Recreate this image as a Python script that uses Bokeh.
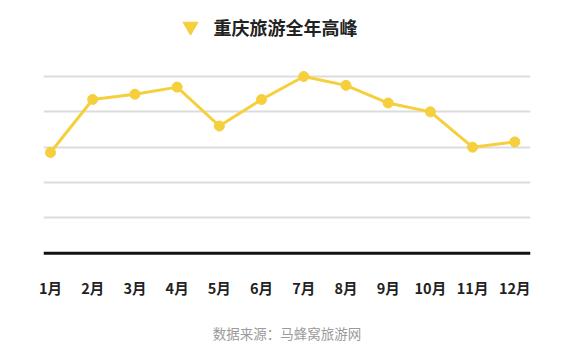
from bokeh.plotting import figure
from bokeh.models import Range1d, FixedTicker, Span, Label
from bokeh.embed import file_html
from bokeh.resources import INLINE

months = list(range(1, 13))
month_labels = ["1月", "2月", "3月", "4月", "5月", "6月", "7月", "8月", "9月", "10月", "11月", "12月"]
values = [57, 87, 90, 94, 72, 87, 100, 95, 85, 80, 60, 63]
grid_ticks = [20, 40, 60, 80, 100]
title_text = "重庆旅游全年高峰"
source_text = "数据来源：马蜂窝旅游网"

YELLOW = "#F6CF3C"
CJK = "Noto Sans CJK SC"

p = figure(width=572, height=352, output_backend="svg", toolbar_location=None,
           x_range=Range1d(0.834, 12.372), y_range=Range1d(-5.26, 138.5),
           min_border_left=43, min_border_right=42, min_border_top=8, min_border_bottom=90)
p.outline_line_color = None
p.background_fill_color = "white"
p.border_fill_color = "white"

p.yaxis.visible = False
p.xgrid.grid_line_color = None
p.ygrid.ticker = FixedTicker(ticks=grid_ticks)
p.ygrid.grid_line_color = "#dcdcdc"
p.ygrid.grid_line_width = 2

xa = p.xaxis[0]
xa.ticker = FixedTicker(ticks=months)
xa.major_label_overrides = {m: l for m, l in zip(months, month_labels)}
xa.axis_line_color = None
xa.major_tick_line_color = None
xa.minor_tick_line_color = None
xa.major_tick_out = 0
xa.major_tick_in = 0
xa.major_label_standoff = 14
xa.major_label_text_font = CJK
xa.major_label_text_font_size = "14.5px"
xa.major_label_text_font_style = "bold"
xa.major_label_text_color = "#222222"
xa.axis_label = source_text
xa.axis_label_standoff = 22
xa.axis_label_text_font = CJK
xa.axis_label_text_font_size = "13.5px"
xa.axis_label_text_font_style = "normal"
xa.axis_label_text_color = "#9a9a9a"

p.add_layout(Span(location=0, dimension="width", line_color="#111111", line_width=3))

p.line(months, values, line_color=YELLOW, line_width=3)
p.scatter(months, values, size=10, fill_color=YELLOW, line_color=YELLOW)

p.scatter([4.317], [128.3], marker="inverted_triangle", size=15, fill_color=YELLOW, line_color=YELLOW)
p.add_layout(Label(x=4.862, y=128.3, text=title_text, text_font=CJK, text_font_size="18px",
                   text_font_style="bold", text_color="#222222", text_baseline="middle", text_align="left"))

open("out.html", "w").write(file_html(p, INLINE))
